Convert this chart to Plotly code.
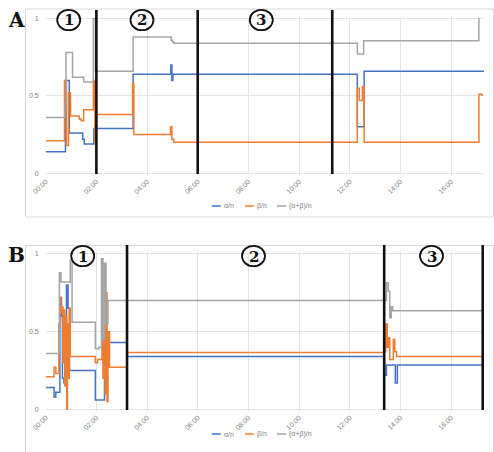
import plotly.graph_objects as go

W, H = 494, 452

# ---------------- data (hours since 00:00, ratio values; step series) ----------------
tick_hours = [0, 2, 4, 6, 8, 10, 12, 14, 16]
tick_labels = ["00:00", "02:00", "04:00", "06:00", "08:00", "10:00", "12:00", "14:00", "16:00"]
y_ticks = [0, 0.5, 1]
y_tick_labels = ["0", "0.5", "1"]
series_names = ["α/n", "β/n", "(α+β)/n"]

# Panel A
A_alpha_t = [0, 0.78, 0.93, 1.46, 1.52, 1.9, 3.45, 4.94, 4.98, 5.02, 12.3, 12.57, 17.3]
A_alpha_v = [0.14, 0.60, 0.26, 0.22, 0.19, 0.29, 0.64, 0.70, 0.60, 0.64, 0.30, 0.66, 0.66]
A_beta_t = [0, 0.74, 0.82, 0.90, 0.98, 1.32, 1.40, 1.50, 1.88, 1.94, 2.0, 3.43, 3.48, 4.93, 4.98, 5.05,
            12.3, 12.38, 12.50, 12.57, 17.1, 17.22]
A_beta_v = [0.21, 0.60, 0.18, 0.52, 0.37, 0.35, 0.34, 0.41, 0.60, 0.20, 0.38, 0.58, 0.25, 0.30, 0.22, 0.20,
            0.55, 0.47, 0.56, 0.20, 0.51, 0.50]
A_sum_t = [0, 0.76, 0.80, 1.06, 1.50, 1.88, 1.96, 3.45, 4.95, 5.0, 5.05, 12.3, 12.55, 17.1, 17.12]
A_sum_v = [0.36, 0.45, 0.78, 0.62, 0.59, 1.0, 0.66, 0.88, 0.86, 0.85, 0.84, 0.77, 0.857, 1.0, 1.0]
A_bounds = [2.0, 6.0, 11.31]

# Panel B
B_alpha_t = [0, 0.33, 0.40, 0.56, 0.62, 0.66, 0.72, 0.78, 0.82, 0.88, 0.94, 1.96, 2.32, 2.38, 2.44, 2.50,
             3.21, 13.37, 13.45, 13.80, 13.88, 17.27]
B_alpha_v = [0.14, 0.08, 0.11, 0.72, 0.60, 0.20, 0.17, 0.22, 0.80, 0.65, 0.25, 0.06, 0.45, 0.40, 0.50, 0.43,
             0.34, 0.22, 0.285, 0.17, 0.285, 0.285]
B_beta_t = [0, 0.33, 0.40, 0.52, 0.56, 0.60, 0.64, 0.68, 0.71, 0.75, 0.79, 0.83, 0.86, 0.89, 0.93, 0.97,
            1.96, 2.05, 2.22, 2.26, 2.30, 2.34, 2.38, 2.42, 2.46, 2.52, 3.21,
            13.37, 13.42, 13.48, 13.53, 13.58, 13.72, 13.78, 13.85, 17.27]
B_beta_v = [0.21, 0.27, 0.23, 0.55, 0.72, 0.62, 0.66, 0.30, 0.64, 0.15, 0.60, 0.0, 0.55, 0.20, 0.65, 0.34,
            0.30, 0.32, 0.55, 0.20, 0.65, 0.10, 0.75, 0.05, 0.50, 0.27, 0.365,
            0.37, 0.55, 0.40, 0.46, 0.32, 0.45, 0.37, 0.34, 0.34]
B_sum_t = [0, 0.54, 0.60, 0.97, 1.04, 1.96, 2.10, 2.20, 2.26, 2.32, 2.38, 2.46, 13.45, 13.52, 13.58, 13.64,
           13.70, 17.27]
B_sum_v = [0.36, 0.88, 0.82, 0.96, 0.56, 0.39, 0.40, 0.97, 0.45, 0.94, 0.55, 0.70, 0.815, 0.76, 0.59, 0.66,
           0.635, 0.635]
B_bounds = [3.21, 13.36, 17.25]

colors = ["#4472C4", "#ED7D31", "#A5A5A5"]


def xp(px):
    return px / W


def yp(py):
    return 1 - py / H


fig = go.Figure()

panels = [
    dict(sfx="", ax="x", ay="y", x0=45.7, x1=484, y0=173.3, y1=18.5, xmax=17.30,
         series=[(A_alpha_t, A_alpha_v), (A_beta_t, A_beta_v), (A_sum_t, A_sum_v)],
         bounds=A_bounds, bline=(10, 174), box=(25.5, 9, 493.5, 217),
         circles=[68.7, 142, 261.3], cy=20, label="A", label_y=19.5, legend_y=206),
    dict(sfx="2", ax="x2", ay="y2", x0=45.7, x1=484, y0=409.3, y1=254, xmax=17.30,
         series=[(B_alpha_t, B_alpha_v), (B_beta_t, B_beta_v), (B_sum_t, B_sum_v)],
         bounds=B_bounds, bline=(245, 410), box=(25.5, 245.5, 493.5, 470),
         circles=[82.7, 253.5, 431.5], cy=256, label="B", label_y=255, legend_y=434),
]

shapes = []
annotations = []
grid = "#e4e4e4"
tickfont = dict(family="Liberation Sans, Arial, sans-serif", size=7, color="#808080")

for p in panels:
    unit = p["y0"] - p["y1"]
    pad = 0.012
    fig.update_layout(**{
        "xaxis" + p["sfx"]: dict(domain=[xp(p["x0"]), xp(p["x1"])], range=[0, p["xmax"]],
                                 tickvals=tick_hours, ticktext=tick_labels, tickangle=-45,
                                 showgrid=True, gridcolor=grid, gridwidth=1, zeroline=False,
                                 showline=False, ticks="", tickfont=tickfont, anchor=p["ay"],
                                 automargin=False, fixedrange=True),
        "yaxis" + p["sfx"]: dict(domain=[yp(p["y0"] + pad * unit), yp(p["y1"] - pad * unit)],
                                 range=[-pad, 1 + pad], tickvals=y_ticks, ticktext=y_tick_labels,
                                 showgrid=True, gridcolor=grid, gridwidth=1, zeroline=False,
                                 showline=False, ticks="", tickfont=tickfont, anchor=p["ax"],
                                 ticklabelstandoff=6, automargin=False, fixedrange=True),
    })
    # chart-area box
    bx0, by0, bx1, by1 = p["box"]
    shapes.append(dict(type="rect", xref="paper", yref="paper", x0=xp(bx0), x1=xp(bx1),
                       y0=yp(by1), y1=yp(by0), line=dict(color="#d9d9d9", width=1),
                       fillcolor="rgba(0,0,0,0)", layer="below"))
    for (t, v), c, name in zip(p["series"], colors, series_names):
        fig.add_trace(go.Scatter(x=t, y=v, mode="lines", line=dict(color=c, width=1.5, shape="hv"),
                                 name=name, xaxis=p["ax"], yaxis=p["ay"], showlegend=False,
                                 hoverinfo="skip"))
    # phase boundaries
    for b in p["bounds"]:
        shapes.append(dict(type="line", xref=p["ax"], yref="paper", x0=b, x1=b,
                           y0=yp(p["bline"][1]), y1=yp(p["bline"][0]),
                           line=dict(color="#111111", width=2.6)))
    # circled phase numbers
    for i, cx in enumerate(p["circles"]):
        rx, ry = 11.5, 10.2
        shapes.append(dict(type="circle", xref="paper", yref="paper", x0=xp(cx - rx), x1=xp(cx + rx),
                           y0=yp(p["cy"] + ry), y1=yp(p["cy"] - ry),
                           line=dict(color="#111111", width=1.8)))
        annotations.append(dict(x=xp(cx), y=yp(p["cy"] + 0.5), xref="paper", yref="paper",
                                text="<b>%d</b>" % (i + 1), showarrow=False,
                                font=dict(family="DejaVu Serif, Liberation Serif, serif", size=15,
                                          color="#111111"),
                                xanchor="center", yanchor="middle"))
    annotations.append(dict(x=xp(16), y=yp(p["label_y"]), xref="paper", yref="paper",
                            text="<b>%s</b>" % p["label"], showarrow=False,
                            font=dict(family="DejaVu Serif, Liberation Serif, serif", size=20,
                                      color="#111111"),
                            xanchor="center", yanchor="middle"))
    # legend (Excel style: short line + label)
    lx = [211.7, 245, 277]
    for x_, c, name in zip(lx, colors, series_names):
        shapes.append(dict(type="line", xref="paper", yref="paper", x0=xp(x_), x1=xp(x_ + 9),
                           y0=yp(p["legend_y"]), y1=yp(p["legend_y"]),
                           line=dict(color=c, width=1.5)))
        annotations.append(dict(x=xp(x_ + 10), y=yp(p["legend_y"]), xref="paper", yref="paper",
                                text=name, showarrow=False, font=tickfont,
                                xanchor="left", yanchor="middle"))

fig.update_layout(width=W, height=H, margin=dict(l=0, r=0, t=0, b=0, autoexpand=False),
                  paper_bgcolor="white", plot_bgcolor="white", showlegend=False,
                  shapes=shapes, annotations=annotations)

fig.write_html("out.html", config={"displayModeBar": False},
               post_script="document.body.style.margin='0';document.body.style.overflow='hidden';")
